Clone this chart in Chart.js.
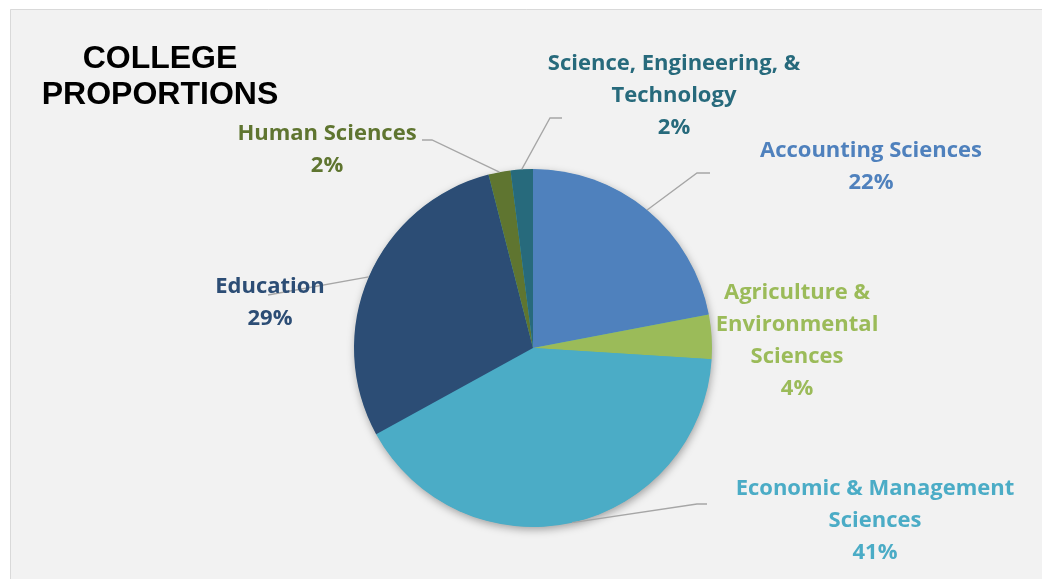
<!DOCTYPE html>
<html lang="en">
<head>
<meta charset="UTF-8">
<title>College Proportions</title>
<script src="https://cdn.jsdelivr.net/npm/chart.js@4"></script>
<style>
  html, body { margin: 0; padding: 0; background: #ffffff; }
  #wrap { width: 1042px; height: 579px; position: relative; }
</style>
</head>
<body>
<div id="wrap"><canvas id="pie" width="1042" height="579"></canvas></div>
<script>
// Share of students per college, in percent, clockwise from 12 o'clock
const categories = [
  'Accounting Sciences',
  'Agriculture & Environmental Sciences',
  'Economic & Management Sciences',
  'Education',
  'Human Sciences',
  'Science, Engineering, & Technology'
];
const shares = [22, 4, 41, 29, 2, 2];
const sliceColors = ['#4F81BD', '#9BBB59', '#4BACC6', '#2C4D75', '#5F7530', '#276A7C'];

// How each category name is broken over lines in its label
const labelLines = [
  ['Accounting Sciences'],
  ['Agriculture &', 'Environmental', 'Sciences'],
  ['Economic & Management', 'Sciences'],
  ['Education'],
  ['Human Sciences'],
  ['Science, Engineering, &', 'Technology']
];

// Label placement: centre x, centre y of first line, and leader line path (after the slice anchor)
const labelLayout = [
  { x: 871, y: 151, leader: [[697, 173], [710, 173]] },
  { x: 797, y: 293, leader: null },
  { x: 875, y: 489, leader: [[697, 504], [707, 504]] },
  { x: 270, y: 287, leader: [[268, 295]] },
  { x: 327, y: 134, leader: [[432, 140], [422, 140]] },
  { x: 674, y: 64,  leader: [[550, 118], [562, 118]] }
];

const LABEL_FONT = 'bold 22px "Open Sans", Lato, sans-serif';
const LINE_GAP = 32;

const backdrop = {
  id: 'backdrop',
  beforeDraw(chart) {
    const ctx = chart.ctx;
    ctx.save();
    ctx.fillStyle = '#ffffff';
    ctx.fillRect(0, 0, chart.width, chart.height);
    ctx.fillStyle = '#f2f2f2';
    ctx.fillRect(10, 9, chart.width, chart.height);
    ctx.strokeStyle = '#d9d9d9';
    ctx.lineWidth = 1;
    ctx.beginPath();
    ctx.moveTo(10.5, chart.height);
    ctx.lineTo(10.5, 9.5);
    ctx.lineTo(chart.width, 9.5);
    ctx.stroke();

    ctx.fillStyle = '#000000';
    ctx.font = 'bold 32px "Liberation Sans", Arial, sans-serif';
    ctx.textAlign = 'center';
    ctx.textBaseline = 'middle';
    ctx.fillText('COLLEGE', 160, 59);
    ctx.fillText('PROPORTIONS', 160, 95);
    ctx.restore();
  }
};

// soft shadow under the whole pie
const pieShadow = {
  id: 'pieShadow',
  beforeDatasetsDraw(chart) {
    const arc = chart.getDatasetMeta(0).data[0];
    if (!arc) return;
    const ctx = chart.ctx;
    ctx.save();
    ctx.shadowColor = 'rgba(0,0,0,0.35)';
    ctx.shadowBlur = 9;
    ctx.shadowOffsetX = 1;
    ctx.shadowOffsetY = 3;
    ctx.fillStyle = '#4BACC6';
    ctx.beginPath();
    ctx.arc(arc.x, arc.y, arc.outerRadius - 0.5, 0, Math.PI * 2);
    ctx.fill();
    ctx.restore();
  }
};

const outsideLabels = {
  id: 'outsideLabels',
  afterDatasetsDraw(chart) {
    const ctx = chart.ctx;
    const meta = chart.getDatasetMeta(0);
    const total = shares.reduce((a, b) => a + b, 0);
    ctx.save();

    // leader lines first, so the text sits on top
    ctx.strokeStyle = '#a6a6a6';
    ctx.lineWidth = 1.3;
    meta.data.forEach((arc, i) => {
      const lay = labelLayout[i];
      if (!lay.leader) return;
      const mid = (arc.startAngle + arc.endAngle) / 2;
      ctx.beginPath();
      ctx.moveTo(arc.x + Math.cos(mid) * arc.outerRadius, arc.y + Math.sin(mid) * arc.outerRadius);
      lay.leader.forEach(p => ctx.lineTo(p[0], p[1]));
      ctx.stroke();
    });

    ctx.font = LABEL_FONT;
    ctx.textAlign = 'center';
    ctx.textBaseline = 'middle';
    meta.data.forEach((arc, i) => {
      const lay = labelLayout[i];
      const lines = labelLines[i].concat([Math.round(shares[i] / total * 100) + '%']);
      ctx.fillStyle = sliceColors[i];
      lines.forEach((t, k) => ctx.fillText(t, lay.x, lay.y + k * LINE_GAP));
    });
    ctx.restore();
  }
};

new Chart(document.getElementById('pie'), {
  type: 'pie',
  data: {
    labels: categories,
    datasets: [{
      data: shares,
      backgroundColor: sliceColors,
      borderWidth: 0
    }]
  },
  options: {
    responsive: false,
    animation: false,
    rotation: 0,
    layout: { padding: { left: 354, right: 330, top: 169, bottom: 52 } },
    plugins: {
      legend: { display: false },
      tooltip: { enabled: false }
    }
  },
  plugins: [backdrop, pieShadow, outsideLabels]
});
</script>
</body>
</html>
